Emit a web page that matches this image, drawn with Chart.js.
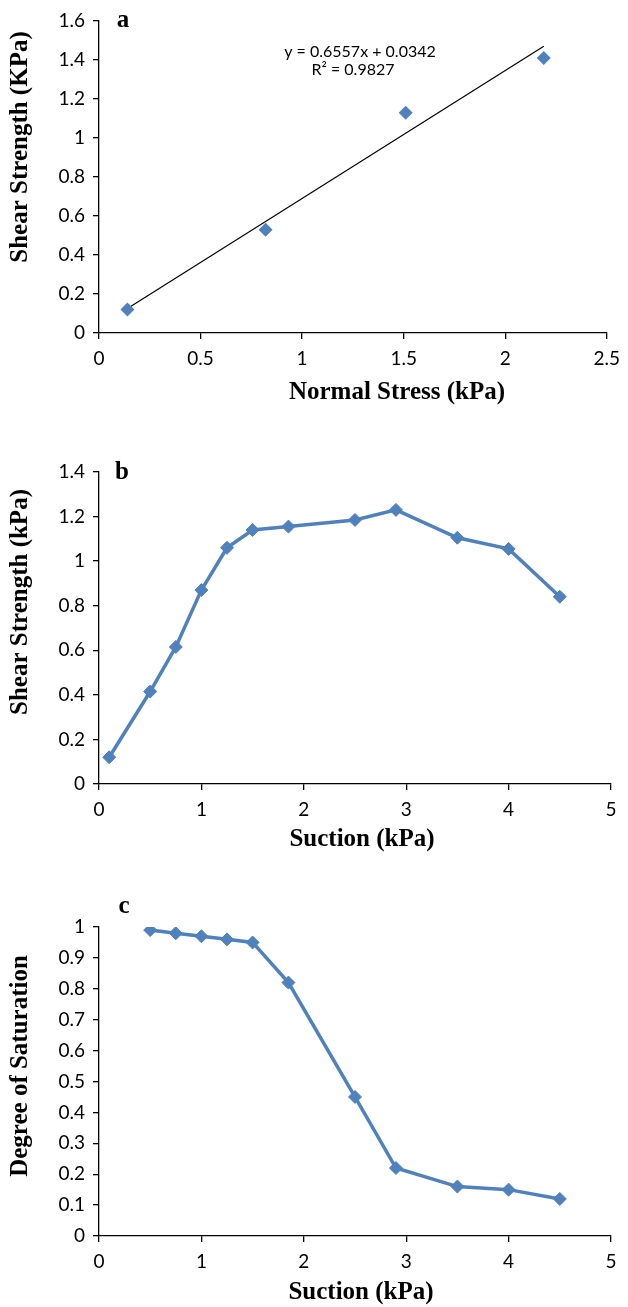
<!DOCTYPE html>
<html>
<head>
<meta charset="utf-8">
<script src="https://cdn.jsdelivr.net/npm/chart.js@4"></script>
<style>
  body { margin: 0; background: #fff; }
  canvas { display: block; }
</style>
</head>
<body>
<canvas id="chartA" width="628" height="420"></canvas>
<canvas id="chartB" width="628" height="440"></canvas>
<canvas id="chartC" width="628" height="447"></canvas>
<script>
// (a) shear strength vs normal stress, with linear trend line
const normalStress = [0.14, 0.82, 1.51, 2.19];
const shearA = [0.12, 0.53, 1.13, 1.41];
const trendX = [0.14, 2.19];
const trendY = [0.126, 1.47];
const trendText = ['y = 0.6557x + 0.0342', 'R² = 0.9827'];

// (b) shear strength vs suction
const suctionB = [0.1, 0.5, 0.75, 1.0, 1.25, 1.5, 1.85, 2.5, 2.9, 3.5, 4.0, 4.5];
const shearB = [0.12, 0.415, 0.615, 0.87, 1.06, 1.14, 1.155, 1.185, 1.23, 1.105, 1.055, 0.84];

// (c) degree of saturation vs suction
const suctionC = [0.5, 0.75, 1.0, 1.25, 1.5, 1.85, 2.5, 2.9, 3.5, 4.0, 4.5];
const saturation = [0.99, 0.98, 0.97, 0.96, 0.95, 0.82, 0.45, 0.22, 0.16, 0.15, 0.12];

const blue = '#4F81BD';
const serif = 'bold 25px "Liberation Serif", "Times New Roman", serif';

Chart.defaults.font.family = 'Lato, "Open Sans", sans-serif';
Chart.defaults.font.size = 19;
Chart.defaults.color = '#000';
Chart.defaults.animation = false;

function toPoints(xs, ys) {
  return xs.map((x, i) => ({ x: x, y: ys[i] }));
}

// panel letters, axis titles and trend text drawn at fixed spots
const textPlugin = {
  id: 'texts',
  afterDraw(chart, args, opts) {
    const ctx = chart.ctx;
    for (const t of opts.items) {
      ctx.save();
      ctx.fillStyle = '#000';
      ctx.font = t.font;
      ctx.textAlign = t.align || 'center';
      ctx.textBaseline = t.baseline || 'middle';
      ctx.translate(t.x, t.y);
      if (t.rotate) ctx.rotate(-Math.PI / 2);
      ctx.fillText(t.text, 0, 0);
      ctx.restore();
    }
  }
};

function axis(min, max, step, fit) {
  return {
    type: 'linear',
    min: min,
    max: max,
    ticks: {
      stepSize: step,
      padding: 8,
      callback: v => String(Number(v.toFixed(2)))
    },
    grid: { drawOnChartArea: false, drawTicks: true, tickLength: 6, color: '#000', lineWidth: 1.3 },
    border: { color: '#000', width: 1.3 },
    title: { display: false },
    afterFit: fit
  };
}

function makeChart(id, datasets, xr, yr, top, bottom, texts) {
  const canvas = document.getElementById(id);
  const h = canvas.height;
  return new Chart(canvas, {
    type: 'scatter',
    data: { datasets: datasets },
    options: {
      responsive: false,
      layout: { padding: { top: top, right: 17, left: 0, bottom: 0 } },
      plugins: { legend: { display: false }, tooltip: { enabled: false }, texts: { items: texts } },
      scales: {
        x: axis(xr[0], xr[1], xr[2], s => { s.height = h - bottom; }),
        y: axis(yr[0], yr[1], yr[2], s => { s.width = 99; })
      }
    },
    plugins: [textPlugin]
  });
}

makeChart('chartA', [
  {
    data: toPoints(normalStress, shearA),
    pointStyle: 'rectRot', pointRadius: 7,
    backgroundColor: blue, borderColor: blue, borderWidth: 0
  },
  {
    data: toPoints(trendX, trendY),
    showLine: true, pointRadius: 0,
    borderColor: '#000', borderWidth: 1.2
  }
], [0, 2.5, 0.5], [0, 1.6, 0.2], 21, 333, [
  { text: 'a', font: serif, x: 123, y: 27, baseline: 'alphabetic' },
  { text: trendText[0], font: '16px Lato, sans-serif', x: 360, y: 52 },
  { text: trendText[1], font: '16px Lato, sans-serif', x: 353, y: 70 },
  { text: 'Normal Stress (kPa)', font: serif, x: 397, y: 393 },
  { text: 'Shear Strength (KPa)', font: serif, x: 21, y: 147, rotate: true }
]);

const lineStyle = {
  showLine: true, pointStyle: 'rectRot', pointRadius: 6.5,
  backgroundColor: blue, borderColor: blue, borderWidth: 3.5, pointBorderWidth: 1
};

makeChart('chartB', [
  Object.assign({ data: toPoints(suctionB, shearB) }, lineStyle)
], [0, 5, 1], [0, 1.4, 0.2], 52, 364, [
  { text: 'b', font: serif, x: 122, y: 59, baseline: 'alphabetic' },
  { text: 'Suction (kPa)', font: serif, x: 362, y: 420 },
  { text: 'Shear Strength (kPa)', font: serif, x: 21, y: 182, rotate: true }
]);

makeChart('chartC', [
  Object.assign({ data: toPoints(suctionC, saturation) }, lineStyle)
], [0, 5, 1], [0, 1, 0.1], 67, 376, [
  { text: 'c', font: serif, x: 124, y: 53, baseline: 'alphabetic' },
  { text: 'Suction (kPa)', font: serif, x: 361, y: 433 },
  { text: 'Degree of Saturation', font: serif, x: 21, y: 206, rotate: true }
]);
</script>
</body>
</html>
